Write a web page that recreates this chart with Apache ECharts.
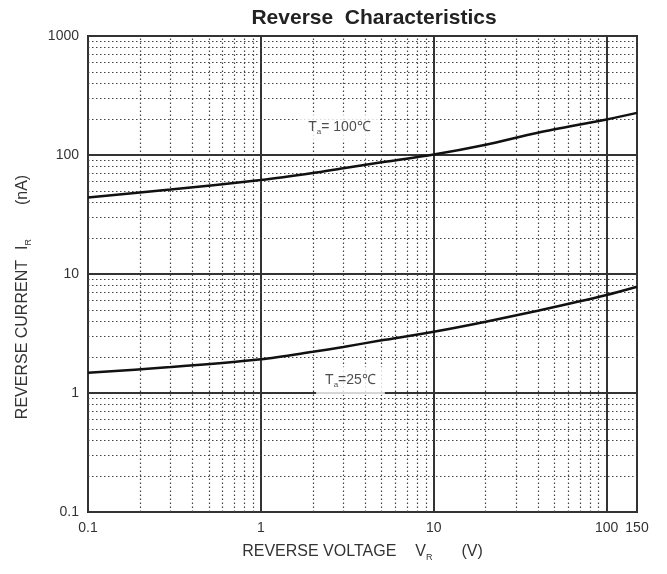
<!DOCTYPE html>
<html><head><meta charset="utf-8">
<script src="https://cdn.jsdelivr.net/npm/echarts/dist/echarts.min.js"></script>
<style>html,body{margin:0;padding:0;background:#fff}#c{width:667px;height:574px}</style>
</head><body><div id="c"></div>
<script>
// Data
const voltage = [0.1, 0.3, 1, 2, 3, 5, 10, 20, 40, 100, 150];
const current100 = [44, 51.2, 61.6, 70.5, 77.5, 87, 101, 122, 154, 199, 226];
const current25 = [1.48, 1.65, 1.92, 2.22, 2.44, 2.77, 3.27, 3.97, 4.92, 6.67, 7.82];
const xMinor = [0.2,0.3,0.4,0.5,0.6,0.7,0.8,0.9,2,3,4,5,6,7,8,9,20,30,40,50,60,70,80,90];
const yMinor = [0.2,0.3,0.4,0.5,0.6,0.7,0.8,0.9,2,3,4,5,6,7,8,9,20,30,40,50,60,70,80,90,200,300,400,500,600,700,800,900];
const label100 = [2.85, 168];
const label25 = [3.3, 1.26];

const font = 'Liberation Sans, Arial, sans-serif';
const chart = echarts.init(document.getElementById('c'));
const pairs = (xs, ys) => xs.map((x, i) => [x, ys[i]]);
const nameRich = (gap1, gap2) => ({
  n: {fontFamily: font, fontSize: 16, color: '#333'},
  v: {fontFamily: font, fontSize: 16, color: '#333', padding: [0, 0, 0, gap1]},
  s: {fontFamily: font, fontSize: 9, color: '#333', verticalAlign: 'bottom', padding: [12, 0, 0, 0]},
  p: {fontFamily: font, fontSize: 16, color: '#333', padding: [0, 0, 0, gap2]}
});

chart.setOption({
  animation: false,
  backgroundColor: '#fff',
  title: {
    text: 'Reverse  Characteristics',
    left: 369, textAlign: 'center', top: 3,
    textStyle: {fontFamily: font, fontSize: 21, fontWeight: 'bold', color: '#222'}
  },
  grid: {left: 88, right: 30, top: 36, bottom: 62, show: true, borderColor: '#2a2a2a', borderWidth: 2, backgroundColor: 'transparent'},
  xAxis: {
    type: 'log', min: 0.1, max: 150, logBase: 10,
    axisLine: {show: false}, axisTick: {show: false},
    splitLine: {show: true, lineStyle: {color: '#333', width: 2}},
    axisLabel: {fontFamily: font, fontSize: 14, color: '#333', margin: 9,
      formatter: v => String(+v.toPrecision(3))},
    name: '{n|REVERSE VOLTAGE}{v|V}{s|R}{p|(V)}',
    nameLocation: 'middle', nameGap: 29,
    nameTextStyle: {rich: nameRich(19, 29)}
  },
  yAxis: {
    type: 'log', min: 0.1, max: 1000, logBase: 10,
    axisLine: {show: false}, axisTick: {show: false},
    splitLine: {show: true, lineStyle: {color: '#333', width: 2}},
    axisLabel: {fontFamily: font, fontSize: 14, color: '#333', margin: 9,
      formatter: v => String(+v.toPrecision(3))},
    name: '{n|REVERSE CURRENT}{v|I}{s|R}{p|(nA)}',
    nameLocation: 'middle', nameGap: 55,
    nameTextStyle: {padding: [0, 46, 0, 0], rich: nameRich(10, 34)}
  },
  series: [
    {
      type: 'line', data: [], silent: true,
      markLine: {
        silent: true, symbol: 'none', label: {show: false},
        lineStyle: {color: '#444', width: 1.2, type: [1.5, 2.5]},
        data: xMinor.map(v => ({xAxis: v})).concat(yMinor.map(v => ({yAxis: v})))
      }
    },
    {type: 'line', data: pairs(voltage, current100), smooth: 0.3, showSymbol: false,
     lineStyle: {color: '#111', width: 2.5}, z: 5},
    {type: 'line', data: pairs(voltage, current25), smooth: 0.3, showSymbol: false,
     lineStyle: {color: '#111', width: 2.5}, z: 5},
    {type: 'scatter', symbolSize: 0, z: 6, silent: true,
     data: [label100, label25].map((p, i) => ({value: p, name: i === 0 ? '= 100' : '=25'})),
     label: {show: true, position: 'inside', backgroundColor: '#fff', padding: [4, 9, 6, 9],
       formatter: p => '{t|T}{s|a}{t|' + p.name + '℃}',
       rich: {
         t: {fontFamily: font, fontSize: 14, color: '#222'},
         s: {fontFamily: font, fontSize: 8, color: '#222', verticalAlign: 'bottom', padding: [10, 0, 0, 0]}
       }}
    }
  ]
});
</script></body></html>
